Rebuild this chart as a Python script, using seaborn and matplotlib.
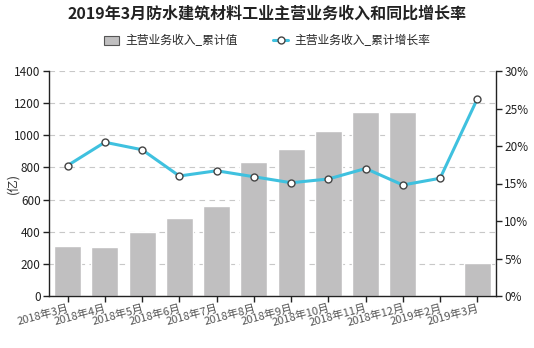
import matplotlib
matplotlib.use("Agg")
import matplotlib.pyplot as plt
import seaborn as sns
import pandas as pd
import numpy as np
from matplotlib.ticker import FuncFormatter, MultipleLocator
from matplotlib.patches import Patch

months = ["2018年3月", "2018年4月", "2018年5月", "2018年6月", "2018年7月", "2018年8月",
          "2018年9月", "2018年10月", "2018年11月", "2018年12月", "2019年2月", "2019年3月"]
revenue = [311, 304, 398, 485, 560, 831, 913, 1029, 1142, 1148, 0, 205]
growth = [17.4, 20.5, 19.5, 16.0, 16.7, 15.9, 15.1, 15.6, 17.0, 14.8, 15.7, 26.3]

bar_name = "主营业务收入_累计值"
line_name = "主营业务收入_累计增长率"
title = "2019年3月防水建筑材料工业主营业务收入和同比增长率"

bar_color = "#c0bfc0"

sns.set_theme(style="white")
plt.rcParams["font.family"] = ["Noto Sans CJK SC", "DejaVu Sans"]
plt.rcParams["axes.unicode_minus"] = False

df = pd.DataFrame({"month": months, "revenue": revenue, "growth": growth})

fig = plt.figure(figsize=(5.34, 3.48), dpi=100)
ax = fig.add_axes([49/534, 1 - 296/348, (496-49)/534, (296-71)/348])

sns.barplot(data=df, x="month", y="revenue", color=bar_color, saturation=1,
            width=0.73, ax=ax, zorder=2)
ax.set_ylim(0, 1400)
ax.yaxis.set_major_locator(MultipleLocator(200))
ax.grid(axis="y", color="#c8c8c8", linestyle=(0, (5, 4)), linewidth=0.8, zorder=0)
ax.set_axisbelow(True)
ax.set_xlabel("")
ax.set_ylabel("")
ax.set_xlim(-0.5, len(months) - 0.5)
fig.text(13/534, 1 - 183/348, "(亿)", rotation=90, ha="center", va="center",
         fontsize=9, color="#333333")

ax2 = ax.twinx()
sns.lineplot(x=np.arange(len(months)), y=df["growth"], ax=ax2, color="#3fc1df",
             linewidth=2.2, marker="o", markersize=5, markerfacecolor="white",
             markeredgecolor="#444444", markeredgewidth=1.0, label=line_name, zorder=5)
ax2.set_ylim(0, 30)
ax2.yaxis.set_major_locator(MultipleLocator(5))
ax2.yaxis.set_major_formatter(FuncFormatter(lambda v, p: f"{v:.0f}%"))
ax2.set_ylabel("")
ax2.grid(False)
ax2.set_xlim(-0.5, len(months) - 0.5)

for a in (ax, ax2):
    for s in a.spines.values():
        s.set_visible(False)
ax.spines["left"].set_visible(True)
ax.spines["bottom"].set_visible(True)
ax2.spines["right"].set_visible(True)
for s in (ax.spines["left"], ax.spines["bottom"], ax2.spines["right"]):
    s.set_color("#222222")
    s.set_linewidth(1.0)

ax.tick_params(axis="y", which="major", direction="out", length=4, width=1,
               color="#222222", labelsize=8.5, labelcolor="#222222", left=True, pad=2)
ax.tick_params(axis="x", which="major", direction="out", length=4, width=1,
               color="#222222", labelsize=8, labelcolor="#555555", bottom=True, pad=1)
ax2.tick_params(axis="y", which="major", direction="out", length=4, width=1,
                color="#222222", labelsize=8.5, labelcolor="#222222", right=True, pad=2)
ax.set_xticks(range(len(months)))
ax.set_xticklabels(months, rotation=15, ha="right", rotation_mode="anchor")

# legend
if ax2.get_legend():
    ax2.get_legend().remove()
h2, l2 = ax2.get_legend_handles_labels()
bar_handle = Patch(facecolor=bar_color, edgecolor="#555555", linewidth=0.8)
fig.legend([bar_handle] + h2, [bar_name] + l2, loc="center",
           bbox_to_anchor=(0.5, 1 - 41/348), ncol=2,
           frameon=False, fontsize=8.5, handlelength=1.3, handleheight=0.9,
           columnspacing=3.0, handletextpad=0.5)

fig.text(0.5, 1 - 14/348, title, ha="center", va="center", fontsize=11.5,
         fontweight="bold", color="#222222")

fig.savefig("out.png", dpi=100, facecolor="white")
